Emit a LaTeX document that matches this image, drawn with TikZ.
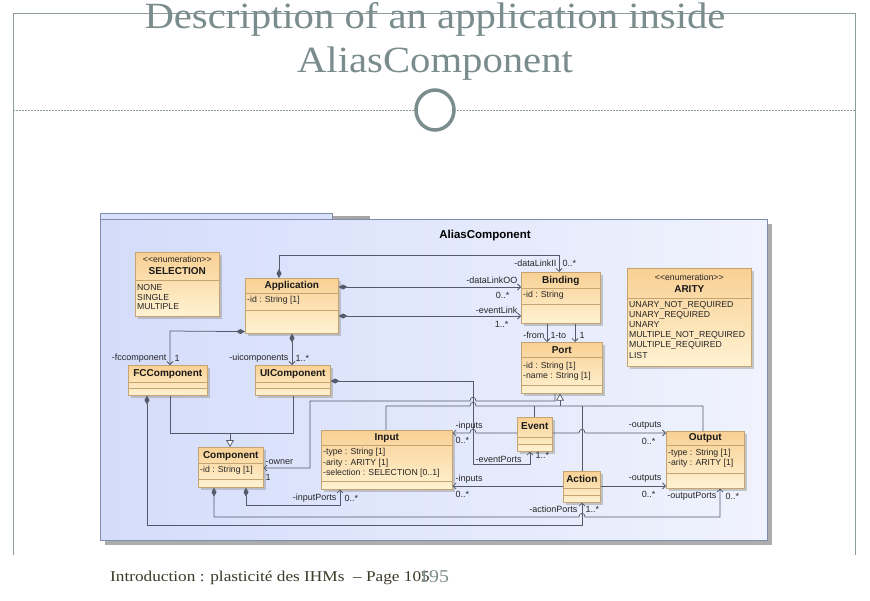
\documentclass[tikz,border=0pt]{standalone}
\usepackage{fontspec}
\usetikzlibrary{arrows.meta,shadows,calc}
\newfontfamily\umlf{Liberation Sans}
\newfontfamily\titlef[FakeStretch=1.1]{Liberation Serif}
\newfontfamily\footf[FakeStretch=1.15]{Liberation Serif}
\definecolor{titlec}{RGB}{122,140,140}
\definecolor{framec}{RGB}{140,156,156}
\definecolor{pkgb}{RGB}{128,140,172}
\definecolor{pkgleft}{RGB}{212,220,250}
\definecolor{pkgright}{RGB}{240,243,253}
\definecolor{pkgtab}{RGB}{216,224,250}
\definecolor{clsb}{RGB}{196,164,112}
\definecolor{clstop}{RGB}{249,208,148}
\definecolor{clsbot}{RGB}{255,242,210}
\definecolor{connc}{RGB}{84,90,106}
\definecolor{footc}{RGB}{60,58,40}
\newcommand\umlbox[5]{\node[clsbox, minimum width=#4pt, minimum height=#5pt, anchor=north west] (#1) at (#2,#3) {};}
\newcommand\clsname[3]{\node[nametxt] (#1-n) at ([yshift=-#2pt]#1.north) {#3};}
\newcommand\clsstereo[2]{\node[attrtxt] (#1-s) at ([yshift=-#2pt]#1.north) {<\kern0pt<enumeration>\kern0pt>};}
\newcommand\clsattr[4]{\node[attrtxt, anchor=west] (#1-#2) at ([xshift=2pt,yshift=-#3pt]#1.north west) {#4};}
\newcommand\clssep[2]{\draw[sepline] ([yshift=-#2pt]#1.north west) -- ([yshift=-#2pt]#1.north east);}
\begin{document}
\begin{tikzpicture}[x=1pt,y=-1pt,
  clsbox/.style={draw=clsb, line width=0.6pt, top color=clstop, bottom color=clsbot, inner sep=0pt,
    drop shadow={shadow xshift=2.5pt, shadow yshift=-2.5pt, fill=black!40, opacity=0.5}},
  nametxt/.style={font=\umlf\bfseries\fontsize{10}{11}\selectfont, inner sep=0pt, text=black!90},
  attrtxt/.style={font=\umlf\fontsize{8.7}{9}\selectfont, inner sep=0pt, text=black!85},
  lbl/.style={font=\umlf\fontsize{9}{10}\selectfont, inner sep=0.5pt, text=black!85},
  sepline/.style={draw=clsb, line width=0.6pt},
  conn/.style={draw=connc, line width=0.75pt},
  comp/.style={{Diamond[length=9pt,width=5pt,fill=connc]}-{Straight Barb[length=3pt,width=6pt]}},
  assoc/.style={-{Straight Barb[length=3pt,width=6pt]}},
  gen/.style={-{Triangle[open,length=7pt,width=8pt,fill=white]}},
  titletxt/.style={font=\titlef\fontsize{37}{40}\selectfont, text=titlec, inner sep=0pt},
]
\useasboundingbox (0,0) rectangle (870,600);
\fill[white] (0,0) rectangle (870,600);
% slide frame
\draw[framec, line width=0.8pt] (13,555) -- (13,13) -- (855,13) -- (855,555);
\draw[framec, line width=0.6pt, dash pattern=on 2pt off 1pt] (13,110) -- (855,110);
\draw[titlec, line width=3.5pt, fill=white] (435,110) ellipse [x radius=19, y radius=20];
\node[titletxt, anchor=base] (t1) at (435,28) {Description of an application inside};
\node[titletxt, anchor=base] (t2) at (435,72) {AliasComponent};
% package
\fill[black!35] (332,216) rectangle (370,219);
\draw[pkgb, line width=0.6pt, fill=pkgtab] (100,213) rectangle (332,219);
\fill[black!32] (105,224) rectangle (772,545);
\draw[pkgb, line width=0.7pt, left color=pkgleft, right color=pkgright] (100,219) rectangle (767,540);
\node[font=\umlf\bfseries\fontsize{11.5}{12}\selectfont, inner sep=0pt] (pkgname) at (485,236) {AliasComponent};
% classes
\umlbox{sel}{135}{252}{84}{64}
\clsstereo{sel}{7}\clsname{sel}{19}{SELECTION}\clssep{sel}{28}
\clsattr{sel}{a}{35}{NONE}\clsattr{sel}{b}{45}{SINGLE}\clsattr{sel}{c}{55}{MULTIPLE}
\umlbox{app}{245}{278}{93}{55}
\clsname{app}{8}{Application}\clssep{app}{15}\clsattr{app}{a}{22}{-id : String [1]}\clssep{app}{32}
\umlbox{bind}{521}{272}{79}{51}
\clsname{bind}{9}{Binding}\clssep{bind}{16}\clsattr{bind}{a}{23}{-id : String}\clssep{bind}{32}
\umlbox{ar}{627}{268}{124}{98}
\clsstereo{ar}{9}\clsname{ar}{21}{ARITY}\clssep{ar}{30}
\clsattr{ar}{a}{37}{UNARY\_NOT\_REQUIRED}\clsattr{ar}{b}{47}{UNARY\_REQUIRED}\clsattr{ar}{c}{57}{UNARY}
\clsattr{ar}{d}{67}{MULTIPLE\_NOT\_REQUIRED}\clsattr{ar}{e}{77}{MULTIPLE\_REQUIRED}\clsattr{ar}{f}{87}{LIST}
\umlbox{port}{521}{342}{81}{51}
\clsname{port}{8}{Port}\clssep{port}{15}\clsattr{port}{a}{24}{-id : String [1]}\clsattr{port}{b}{34}{-name : String [1]}\clssep{port}{43}
\umlbox{fc}{128}{365}{79}{30}
\clsname{fc}{9}{FCComponent}\clssep{fc}{17}\clssep{fc}{23}
\umlbox{ui}{255}{365}{75}{30}
\clsname{ui}{9}{UIComponent}\clssep{ui}{17}\clssep{ui}{23}
\umlbox{comp}{198}{447}{65}{40}
\clsname{comp}{9}{Component}\clssep{comp}{16}\clsattr{comp}{a}{23}{-id : String [1]}\clssep{comp}{32}
\umlbox{inp}{321}{430}{131}{59}
\clsname{inp}{8}{Input}\clssep{inp}{15}\clsattr{inp}{a}{22}{-type : String [1]}\clsattr{inp}{b}{33}{-arity : ARITY [1]}\clsattr{inp}{c}{43}{-selection : SELECTION [0..1]}\clssep{inp}{51}
\umlbox{ev}{517}{417}{35}{34}
\clsname{ev}{9}{Event}\clssep{ev}{20}\clssep{ev}{27}
\umlbox{act}{563}{471}{37}{31}
\clsname{act}{8}{Action}\clssep{act}{17}\clssep{act}{24}
\umlbox{out}{666}{431}{78}{57}
\clsname{out}{7}{Output}\clssep{out}{14}\clsattr{out}{a}{22}{-type : String [1]}\clsattr{out}{b}{32}{-arity : ARITY [1]}\clssep{out}{42}
% connectors
\draw[conn, comp] ([xshift=34pt]app.north west) -- (279,255) -- (559,255) -- ([xshift=38pt]bind.north west);
\draw[conn, comp] ([yshift=-9pt]app.north east) -- ([yshift=-15pt]bind.north west);
\draw[conn, comp] ([yshift=-38pt]app.north east) -- ([yshift=-44pt]bind.north west);
\draw[conn, assoc] ([xshift=26pt]bind.south west) -- ([xshift=26pt]port.north west);
\draw[conn, assoc] ([xshift=54pt]bind.south west) -- ([xshift=54pt]port.north west);
\draw[conn, comp] ([yshift=2pt]app.south west) -- (170,331) -- ([xshift=42pt]fc.north west);
\draw[conn, comp] ([xshift=47pt]app.south west) -- ([xshift=37pt]ui.north west);
\draw[conn] ([xshift=42pt]fc.south west) -- (170,433) -- (293,433) -- ([xshift=38pt]ui.south west);
\draw[conn, gen] (230,433) -- ([xshift=32pt]comp.north west);
\draw[conn, comp] ([yshift=-16pt]ui.north east) -- (473,381) -- (473,464) -- (530,464) -- ([xshift=13pt]ev.south west);
\draw[conn, assoc] ([xshift=34pt]port.south west) -- (555,401) -- (476,401) .. controls (476,396) and (470,396) .. (470,401) -- (310,401) -- (310,468) -- ([yshift=-21pt]comp.north east);
\draw[conn, gen] (560,406) -- ([xshift=39pt]port.south west);
\draw[conn] ([xshift=65pt]inp.north west) -- (386,406) -- (470,406) .. controls (470,401) and (476,401) .. (476,406) -- (703,406) -- ([xshift=37pt]out.north west);
\draw[conn] ([xshift=17pt]ev.north west) -- (534,406);
\draw[conn] ([xshift=19pt]act.north west) -- (582,406);
\draw[conn, assoc] ([yshift=-16pt]ev.north west) -- (476,433) .. controls (476,428) and (470,428) .. (470,433) -- ([yshift=-3pt]inp.north east);
\draw[conn, assoc] ([yshift=-16pt]ev.north east) -- (579,433) .. controls (579,428) and (585,428) .. (585,433) -- ([yshift=-2pt]out.north west);
\draw[conn, assoc] ([yshift=-15pt]act.north west) -- ([yshift=-56pt]inp.north east);
\draw[conn, assoc] ([yshift=-15pt]act.north east) -- ([yshift=-55pt]out.north west);
\draw[conn, comp] ([xshift=48pt]comp.south west) -- (246,505) -- (340,505) -- ([xshift=19pt]inp.south west);
\draw[conn, comp] ([xshift=16pt]comp.south west) -- (214,517) -- (579,517) .. controls (579,512) and (585,512) .. (585,517) -- (720,517) -- ([xshift=54pt]out.south west);
\draw[conn, comp] ([xshift=19pt]fc.south west) -- (147,525) -- (582,525) -- ([xshift=19pt]act.south west);
% labels
\node[lbl, anchor=east] (l1a) at (557,263) {-dataLinkII};
\node[lbl, anchor=west] (l1b) at (562,263) {0..*};
\node[lbl, anchor=east] (l2a) at (518,280) {-dataLinkOO};
\node[lbl, anchor=east] (l2b) at (510,295) {0..*};
\node[lbl, anchor=east] (l3a) at (518,310) {-eventLink};
\node[lbl, anchor=east] (l3b) at (509,324) {1..*};
\node[lbl, anchor=east] (l4a) at (545,335) {-from};
\node[lbl, anchor=west] (l4b) at (550,335) {1-to};
\node[lbl, anchor=west] (l4c) at (579,335) {1};
\node[lbl, anchor=east] (l5a) at (167,358) {-fccomponent};
\node[lbl, anchor=west] (l5b) at (174,358) {1};
\node[lbl, anchor=east] (l6a) at (289,358) {-uicomponents};
\node[lbl, anchor=west] (l6b) at (295,358) {1..*};
\node[lbl, anchor=west] (l7a) at (265,462) {-owner};
\node[lbl, anchor=west] (l7b) at (265,477) {1};
\node[lbl, anchor=west] (l8a) at (475,459) {-eventPorts};
\node[lbl, anchor=west] (l8b) at (535,455) {1..*};
\node[lbl, anchor=west] (l9a) at (455,426) {-inputs};
\node[lbl, anchor=west] (l9b) at (455,440) {0..*};
\node[lbl, anchor=east] (l10a) at (662,426) {-outputs};
\node[lbl, anchor=east] (l10b) at (656,441) {0..*};
\node[lbl, anchor=west] (l11a) at (455,479) {-inputs};
\node[lbl, anchor=west] (l11b) at (455,494) {0..*};
\node[lbl, anchor=east] (l12a) at (662,479) {-outputs};
\node[lbl, anchor=east] (l12b) at (656,494) {0..*};
\node[lbl, anchor=east] (l13a) at (337,498) {-inputPorts};
\node[lbl, anchor=west] (l13b) at (344,498) {0..*};
\node[lbl, anchor=east] (l14a) at (717,496) {-outputPorts};
\node[lbl, anchor=west] (l14b) at (725,496) {0..*};
\node[lbl, anchor=east] (l15a) at (578,509) {-actionPorts};
\node[lbl, anchor=west] (l15b) at (585,509) {1..*};
% footer
\node[font=\footf\fontsize{15}{17}\selectfont, text=footc, anchor=base west, inner sep=0pt] (foot) at (110,581) {Introduction : plasticité des IHMs~~– Page 105};
\node[font=\titlef\fontsize{18}{20}\selectfont, text=titlec, anchor=base west, inner sep=0pt] (pg) at (419,582) {195};
\end{tikzpicture}
\end{document}
